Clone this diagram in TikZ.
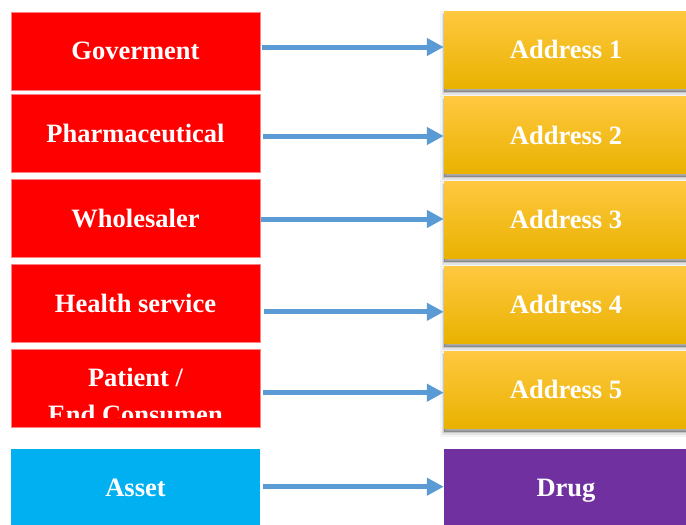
\documentclass[tikz,border=0pt]{standalone}
\usepackage{fontspec}
\setmainfont{Liberation Serif}
\usetikzlibrary{arrows.meta}
\definecolor{boxred}{HTML}{FF0000}
\definecolor{rededge}{HTML}{FF8080}
\definecolor{assetblue}{HTML}{00B0F0}
\definecolor{drugpurple}{HTML}{7030A0}
\definecolor{goldtop}{HTML}{FFC840}
\definecolor{goldmid}{HTML}{FFC000}
\definecolor{goldbot}{HTML}{E9B200}
\definecolor{linkblue}{HTML}{5B9BD5}
\tikzset{
  boxtext/.style={text=white, font=\bfseries\fontsize{26.5}{32}\selectfont,
    text height=17.5pt, text depth=0pt, inner sep=0pt},
  partybox/.style={boxtext, rectangle, fill=boxred, draw=rededge, line width=0.7pt,
    minimum width=249pt, minimum height=78pt},
  addrbox/.style={boxtext, rectangle, top color=goldtop, middle color=goldmid,
    bottom color=goldbot, minimum width=244pt, minimum height=77pt,
    preaction={draw=black, draw opacity=0.04, line width=9pt, transform canvas={yshift=-3.5pt}},
    preaction={draw=black, draw opacity=0.07, line width=5pt, transform canvas={yshift=-3.5pt}},
    preaction={draw=black, draw opacity=0.12, line width=2pt, transform canvas={yshift=-3.5pt}},
    preaction={fill=black, fill opacity=0.3, transform canvas={yshift=-3.5pt}}},
  assetbox/.style={boxtext, rectangle, fill=assetblue, minimum width=249pt, minimum height=78pt},
  drugbox/.style={boxtext, rectangle, fill=drugpurple, minimum width=244pt, minimum height=78pt},
  link/.style={draw=linkblue, line width=5pt, -{Triangle[length=17pt,width=17pt]}},
  plain/.style={boxtext, anchor=base, text height=, text depth=}
}
\begin{document}
\begin{tikzpicture}[x=1pt, y=-1pt]
  \useasboundingbox (0,0) rectangle (686,525);
  \fill[white] (0,0) rectangle (686,525);

  % parties in the supply chain
  \node[partybox] (gov) at (135.5,51) {Goverment};
  \node[partybox] (pharma) at (135.5,133.7) {Pharmaceutical};
  \node[partybox] (whole) at (135.5,218.7) {Wholesaler};
  \node[partybox] (health) at (135.5,303.5) {Health service};
  \node[partybox] (patient) at (135.5,388.3) {};
  \begin{scope}
    \clip (11,340) rectangle (260,417);
    \node[plain] (patientA) at (135.5,386.7) {Patient /};
    \node[plain] (patientB) at (135.5,423.3) {End Consumen};
  \end{scope}

  % their addresses (right edge runs off the page)
  \node[addrbox] (a1) at (566,50) {Address 1};
  \node[addrbox] (a2) at (566,135.3) {Address 2};
  \node[addrbox] (a3) at (566,220) {Address 3};
  \node[addrbox] (a4) at (566,305) {Address 4};
  \node[addrbox] (a5) at (566,390) {Address 5};

  % tracked item
  \node[assetbox] (asset) at (135.5,488) {Asset};
  \node[drugbox] (drug) at (566,488) {Drug};

  % mappings
  \draw[link] ([xshift=2pt,yshift=4pt]gov.east) -- ([yshift=4pt]gov.east -| a1.west);
  \draw[link] ([xshift=3pt,yshift=-2.3pt]pharma.east) -- ([yshift=-2.3pt]pharma.east -| a2.west);
  \draw[link] ([xshift=1pt,yshift=-0.3pt]whole.east) -- ([yshift=-0.3pt]whole.east -| a3.west);
  \draw[link] ([xshift=4pt,yshift=-8.3pt]health.east) -- ([yshift=-8.3pt]health.east -| a4.west);
  \draw[link] ([xshift=2.5pt,yshift=-4.4pt]patient.east) -- ([yshift=-4.4pt]patient.east -| a5.west);
  \draw[link] ([xshift=3pt,yshift=1.3pt]asset.east) -- ([yshift=1.3pt]asset.east -| drug.west);
\end{tikzpicture}
\end{document}
